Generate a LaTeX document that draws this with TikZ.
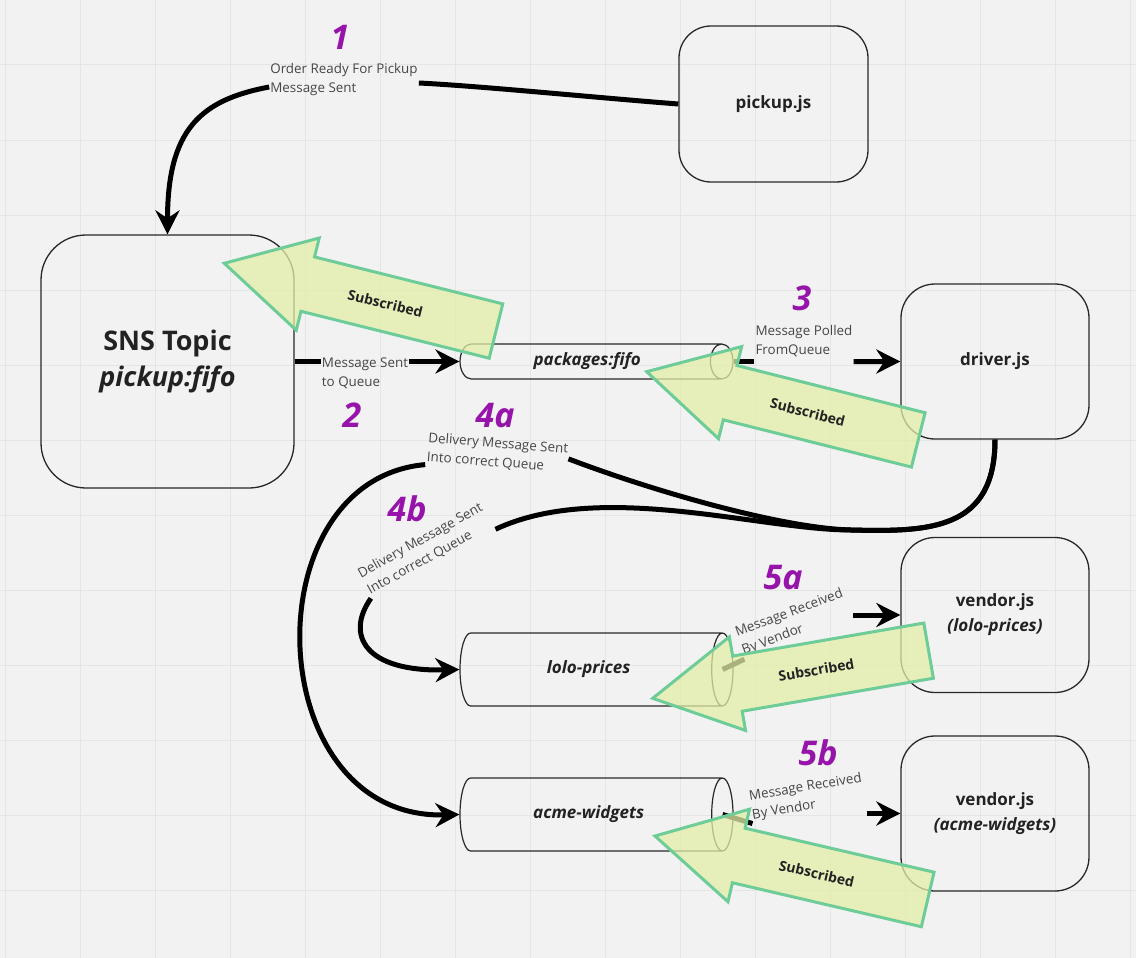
\documentclass[tikz,border=0pt]{standalone}
\usepackage{fontspec}
\setmainfont{Open Sans}
\usetikzlibrary{shapes.geometric,arrows.meta}
\definecolor{bgcol}{RGB}{242,242,242}
\definecolor{gridcol}{RGB}{229,229,229}
\definecolor{linecol}{RGB}{40,40,40}
\definecolor{txtcol}{RGB}{34,34,34}
\definecolor{lblcol}{RGB}{70,70,70}
\definecolor{stepcol}{RGB}{150,20,170}
\definecolor{subline}{RGB}{110,204,152}
\definecolor{subfillcol}{RGB}{226,238,166}

\begin{document}
\begin{tikzpicture}[x=1pt, y=-1pt,
  box/.style = {shape=rectangle, rounded corners=34pt, draw=linecol, line width=1.3pt, align=center,
    text=txtcol, minimum width=188pt, minimum height=155pt, font=\fontsize{17}{25}\selectfont\bfseries},
  queue/.style = {shape=cylinder, anchor=shape center, draw=linecol, line width=1.2pt, minimum height=273pt,
    text=txtcol, font=\fontsize{17}{20}\selectfont\bfseries\itshape},
  lbl/.style = {align=left, inner sep=1pt, text=lblcol, font=\fontsize{13.4}{19}\selectfont},
  num/.style = {text=stepcol, font=\fontsize{34}{40}\selectfont\bfseries\itshape},
  flow/.style = {line width=5pt, black},
  flowto/.style = {flow, -{Stealth[length=24pt, width=24pt, inset=8pt]}},
  pics/subarrow/.style = {code={
    \draw[subline, line width=3pt, fill=subfillcol, fill opacity=0.75]
      (0,0) -- (86,-47.5) -- (86,-28) -- (280,-28) -- (280,28) -- (86,28) -- (86,47.5) -- cycle;
    \node[transform shape, text=txtcol, font=\fontsize{14}{16}\selectfont\bfseries] (-txt) at (166,0) {Subscribed};
  }}]

  % canvas
  \useasboundingbox (0,0) rectangle (1136,958);
  \fill[bgcol] (0,0) rectangle (1136,958);
  \foreach \gx in {5,80,...,1130} \draw[gridcol, line width=1pt] (\gx,0) -- (\gx,958);
  \foreach \gy in {65,140,...,890} \draw[gridcol, line width=1pt] (0,\gy) -- (1136,\gy);

  % services
  \node[box, rounded corners=32pt, minimum width=189pt, minimum height=156pt] (pickup) at (773.5,104) {pickup.js};
  \node[box, rounded corners=45pt, minimum width=253pt, minimum height=253pt,
    font=\fontsize{27}{36}\selectfont\bfseries] (sns) at (167.5,361.5) {SNS Topic\\\textit{pickup:fifo}};
  \node[box] (driver) at (995,361.5) {driver.js};
  \node[box] (lolovendor) at (995,615) {vendor.js\\\textit{(lolo-prices)}};
  \node[box] (acmevendor) at (995,813.5) {vendor.js\\\textit{(acme-widgets)}};

  % queues
  \node[queue, minimum width=35pt, shape aspect=0.95] (packages) at (596.5,361.5) {packages:fifo};
  \node[queue, minimum width=73pt, shape aspect=0.9] (lolo) at (596.5,669.5) {lolo-prices};
  \node[queue, minimum width=73pt, shape aspect=0.9] (acme) at (596.5,814.5) {acme-widgets};

  % connector labels
  \node[lbl] (order) at (344,80) {Order Ready For Pickup\\Message Sent};
  \node[lbl] (sent) at (365,373.5) {Message Sent\\to Queue};
  \node[lbl] (polled) at (804,341.5) {Message Polled\\FromQueue};
  \node[lbl, rotate=-4.5] (deliverya) at (497.5,453.3) {Delivery Message Sent\\Into correct Queue};
  \node[lbl, rotate=29] (deliveryb) at (425,549) {Delivery Message Sent\\Into correct Queue};
  \node[lbl, rotate=20.6] (receiveda) at (792.6,622.5) {Message Received\\By Vendor};
  \node[lbl, rotate=9.3] (receivedb) at (807,797) {Message Received\\By Vendor};

  % step numbers
  \node[num] (num1) at (340,37) {1};
  \node[num] (num2) at (352,415) {2};
  \node[num] (num3) at (802,298) {3};
  \node[num] (num4a) at (495,416) {4a};
  \node[num] (num4b) at (407,509) {4b};
  \node[num] (num5a) at (783,578) {5a};
  \node[num] (num5b) at (818,753) {5b};

  % connectors
  \draw[flow] (pickup.west) .. controls (600,98) and (480,86) .. ([yshift=-3pt]order.east);
  \draw[flowto] ([yshift=-7pt]order.west) .. controls (200,100) and (167.5,130) .. (sns.north);
  \draw[flow] (sns.east) -- (sent.west |- sns.east);
  \draw[flowto] (sent.east |- sns.east) -- (packages.west);
  \draw[flow] (packages.east) -- (polled.west |- packages.east);
  \draw[flowto] (polled.east |- packages.east) -- (driver.west);
  \coordinate (turn) at (851,530);
  \draw[flow] (driver.south) .. controls (995,530) and (930,532) .. (turn)
    .. controls (780,528) and (650,490) .. (deliverya.east);
  \draw[flowto] (deliverya.south west) .. controls (250,480) and (260,820) .. (acme.west);
  \draw[flow] (driver.south) .. controls (995,530) and (930,532) .. (turn)
    .. controls (760,530) and (600,480) .. (deliveryb.south east);
  \draw[flowto] (deliveryb.south west) .. controls (345,635) and (365,672) .. (lolo.west);
  \draw[flow] ([xshift=-11pt]lolo.east) -- (receiveda.south west);
  \draw[flowto] (receiveda.south east |- lolovendor.west) -- (lolovendor.west);
  \draw[flow] ([xshift=-11pt]acme.east) -- (receivedb.south west);
  \draw[flowto] (receivedb.south east |- acmevendor.west) -- (acmevendor.west);

  % subscriptions
  \pic (subsns) [rotate=-14] at (224.3,263.3) {subarrow};
  \pic (subpackages) [rotate=-14.1] at (646.7,371.7) {subarrow};
  \pic (sublolo) [rotate=9.8] at (652.7,698.3) {subarrow};
  \pic (subacme) [rotate=-13.1] at (655,836) {subarrow};

\end{tikzpicture}
\end{document}
